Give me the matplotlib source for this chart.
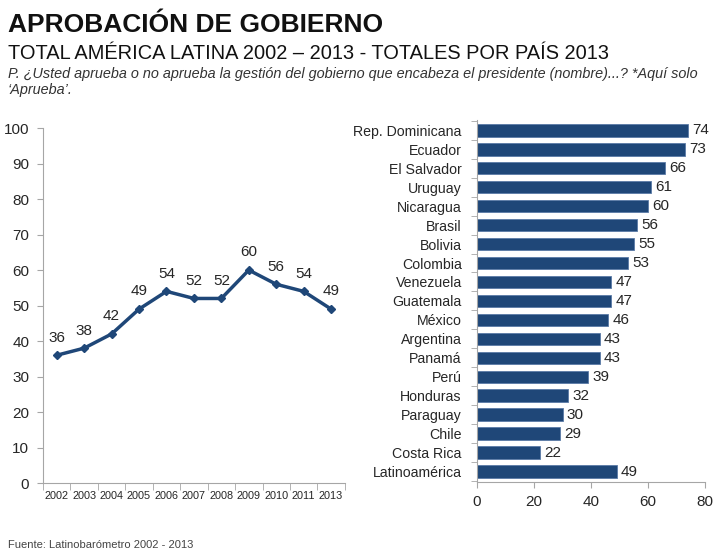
import matplotlib.pyplot as plt
import numpy as np

plt.rcParams['font.family'] = ['Liberation Sans', 'DejaVu Sans']

years = ["2002", "2003", "2004", "2005", "2006", "2007", "2008", "2009", "2010", "2011", "2013"]
approval = [36, 38, 42, 49, 54, 52, 52, 60, 56, 54, 49]

countries = ["Rep. Dominicana", "Ecuador", "El Salvador", "Uruguay", "Nicaragua", "Brasil",
             "Bolivia", "Colombia", "Venezuela", "Guatemala", "México", "Argentina",
             "Panamá", "Perú", "Honduras", "Paraguay", "Chile", "Costa Rica", "Latinoamérica"]
country_vals = [74, 73, 66, 61, 60, 56, 55, 53, 47, 47, 46, 43, 43, 39, 32, 30, 29, 22, 49]

blue = "#1f4778"
gray = "#a6a6a6"
txt = "#262626"

fig = plt.figure(figsize=(7.22, 5.58), dpi=100)

fig.text(0.011, 0.943, "APROBACIÓN DE GOBIERNO", fontsize=19, fontweight="bold", color="#111111")
fig.text(0.011, 0.895, "TOTAL AMÉRICA LATINA 2002 – 2013 - TOTALES POR PAÍS 2013", fontsize=14.4, color="#111111")
fig.text(0.011, 0.86, "P. ¿Usted aprueba o no aprueba la gestión del gobierno que encabeza el presidente (nombre)...? *Aquí solo",
         fontsize=10.4, style="italic", color="#333333")
fig.text(0.011, 0.832, "‘Aprueba’.", fontsize=10.4, style="italic", color="#333333")
fig.text(0.011, 0.018, "Fuente: Latinobarómetro 2002 - 2013", fontsize=8, color="#444444")

# line chart
ax1 = fig.add_axes([0.0596, 0.1344, 0.418, 0.636])
x = np.arange(len(years))
ax1.plot(x, approval, color=blue, lw=2.5, marker="D", ms=4.5)
for xi, v in zip(x, approval):
    ax1.text(xi, v + 3, str(v), ha="center", va="bottom", fontsize=11, color=txt)
ax1.set_xlim(-0.5, len(years) - 0.5)
ax1.set_ylim(0, 100)
ax1.set_yticks(range(0, 101, 10))
ax1.set_xticks(x)
ax1.set_xticklabels(years, fontsize=7.8, color=txt)
ax1.set_xticks(np.arange(-0.5, len(years), 1), minor=True)
ax1.tick_params(axis="x", which="major", length=0, pad=6)
ax1.tick_params(axis="x", which="minor", length=5, color=gray)
ax1.tick_params(axis="y", length=4, color=gray, labelsize=11, labelcolor=txt, pad=6)
for s in ["top", "right"]:
    ax1.spines[s].set_visible(False)
for s in ["left", "bottom"]:
    ax1.spines[s].set_color(gray)

# bar chart
ax2 = fig.add_axes([0.6607, 0.1362, 0.3158, 0.649])
y = np.arange(len(countries))
ax2.barh(y, country_vals, height=0.66, color=blue, edgecolor="#5a7aa6", lw=0.6)
for yi, v in zip(y, country_vals):
    ax2.text(v + 1.5, yi, str(v), va="center", ha="left", fontsize=11, color=txt)
ax2.set_ylim(len(countries) - 0.45, -0.55)
ax2.set_xlim(0, 80)
ax2.set_xticks([0, 20, 40, 60, 80])
ax2.set_yticks(y)
ax2.set_yticklabels(countries, fontsize=10.2, color=txt)
ax2.set_yticks(np.arange(-0.5, len(countries), 1), minor=True)
ax2.tick_params(axis="y", which="major", length=0, pad=11)
ax2.tick_params(axis="y", which="minor", length=4, color=gray)
ax2.tick_params(axis="x", length=4, color=gray, labelsize=11, labelcolor=txt, pad=5)
for s in ["top", "right"]:
    ax2.spines[s].set_visible(False)
for s in ["left", "bottom"]:
    ax2.spines[s].set_color(gray)

fig.savefig("out.png", dpi=100)
